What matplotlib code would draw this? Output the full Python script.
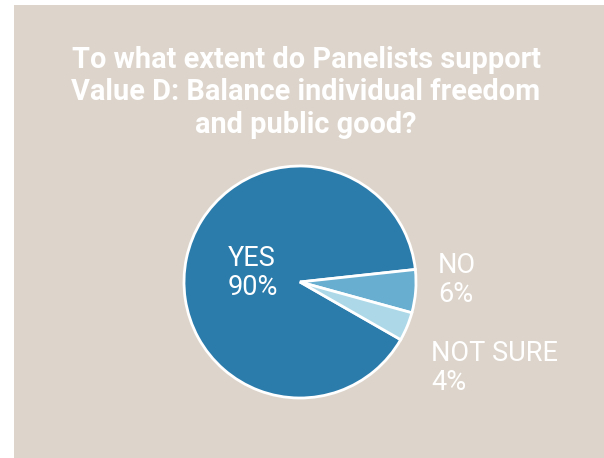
import matplotlib.pyplot as plt
from matplotlib.patches import Rectangle

# data
labels = ["YES", "NO", "NOT SURE"]
values = [90, 6, 4]
colors = ["#2b7bab", "#68aed0", "#acd8e7"]
title_lines = ["To what extent do Panelists support",
               "Value D: Balance individual freedom",
               "and public good?"]

W, H = 604, 458
fig = plt.figure(figsize=(W / 100, H / 100), dpi=100, facecolor="white")

def px(x, y):
    # pixel (from top-left) -> figure fraction
    return x / W, 1 - y / H

# beige panel
fig.patches.append(Rectangle((14 / W, 0), 1 - 14 / W, 1 - 5 / H,
                             transform=fig.transFigure, facecolor="#ddd5cb",
                             edgecolor="none", zorder=-5))

# title
for i, line in enumerate(title_lines):
    x, y = px(306, 68 + i * 32.5)
    fig.text(x, y, line, ha="center", va="baseline", color="white",
             fontsize=20.8, fontweight="bold", family=["Roboto", "DejaVu Sans"])

# pie
cx, cy, r = 300, 282, 116
pad = 1.05
ax = fig.add_axes([(cx - r * pad) / W, (H - cy - r * pad) / H,
                   2 * r * pad / W, 2 * r * pad / H])
ax.set_zorder(2)
ax.pie(values, colors=colors, startangle=-29.8, counterclock=False,
       wedgeprops=dict(edgecolor="white", linewidth=2))
ax.set_xlim(-pad, pad)
ax.set_ylim(-pad, pad)
ax.set_aspect("equal")
ax.axis("off")

# labels
label_pos = [(228, 266), (438, 273), (431, 361)]
for (x, y), lab, v in zip(label_pos, labels, values):
    fx, fy = px(x, y)
    fx2, fy2 = px(x, y + 29)
    kw = dict(ha="left", va="baseline", color="white", fontsize=19.5,
              fontweight="normal", family=["Roboto", "DejaVu Sans"], zorder=5)
    fig.text(fx, fy, lab, **kw)
    fig.text(fx2, fy2, f"{v}%", **kw)

fig.savefig("out.png", dpi=100, facecolor="white")
